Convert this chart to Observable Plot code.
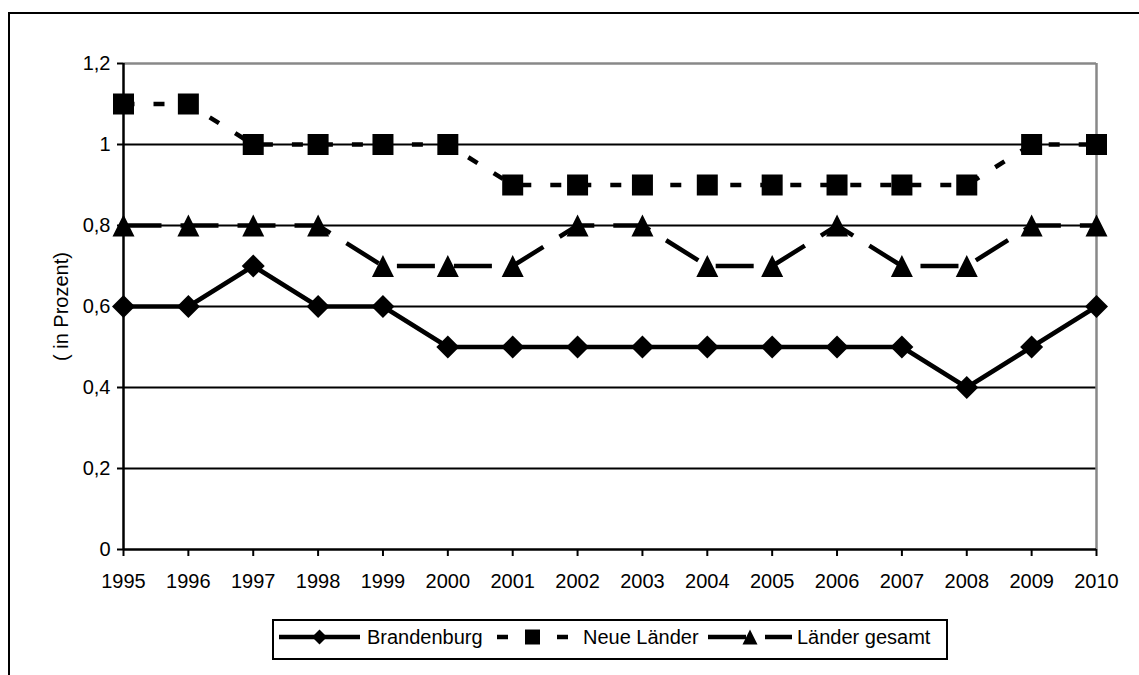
<!DOCTYPE html>
<html>
<head>
<meta charset="utf-8">
<script src="https://cdn.jsdelivr.net/npm/d3@7"></script>
<script src="https://cdn.jsdelivr.net/npm/@observablehq/plot@0.6"></script>
<style>
  body { margin: 0; background: #fff; }
  #page { position: relative; width: 1139px; height: 675px; overflow: hidden; background: #fff;
          font-family: "Liberation Sans", Arial, sans-serif; }
  #frame { position: absolute; left: 8px; top: 12px; width: 1300px; height: 800px;
           border-left: 2px solid #000; border-top: 2px solid #000; box-sizing: border-box; }
  #chart { position: absolute; left: 0; top: 0; }
  #legend { position: absolute; left: 0; top: 0; pointer-events: none; }
</style>
</head>
<body>
<div id="page">
  <div id="frame"></div>
  <div id="chart"></div>
  <svg id="legend" width="1139" height="675"></svg>
</div>
<script>
// Jahre (Kategorien der x-Achse)
const years = ["1995", "1996", "1997", "1998", "1999", "2000", "2001", "2002",
               "2003", "2004", "2005", "2006", "2007", "2008", "2009", "2010"];

// Werte in Prozent
const brandenburg   = [0.6, 0.6, 0.7, 0.6, 0.6, 0.5, 0.5, 0.5, 0.5, 0.5, 0.5, 0.5, 0.5, 0.4, 0.5, 0.6];
const neueLaender   = [1.1, 1.1, 1.0, 1.0, 1.0, 1.0, 0.9, 0.9, 0.9, 0.9, 0.9, 0.9, 0.9, 0.9, 1.0, 1.0];
const laenderGesamt = [0.8, 0.8, 0.8, 0.8, 0.7, 0.7, 0.7, 0.8, 0.8, 0.7, 0.7, 0.8, 0.7, 0.7, 0.8, 0.8];

const seriesNames = ["Brandenburg", "Neue Länder", "Länder gesamt"];
const yTicks = [0, 0.2, 0.4, 0.6, 0.8, 1, 1.2];
const yTitle = "( in Prozent)";

// Marker shapes; the symbol size maps to a half-extent a = r
const halfExtent = size => Math.sqrt(size / Math.PI);
const diamond = { draw(ctx, size) { const a = halfExtent(size);
  ctx.moveTo(0, -a); ctx.lineTo(a, 0); ctx.lineTo(0, a); ctx.lineTo(-a, 0); ctx.closePath(); } };
const square = { draw(ctx, size) { const a = halfExtent(size);
  ctx.moveTo(-a, -a); ctx.lineTo(a, -a); ctx.lineTo(a, a); ctx.lineTo(-a, a); ctx.closePath(); } };
const triangle = { draw(ctx, size) { const a = halfExtent(size);
  ctx.moveTo(0, -a); ctx.lineTo(a, a); ctx.lineTo(-a, a); ctx.closePath(); } };

const series = [
  { name: seriesNames[0], values: brandenburg,   symbol: diamond,  r: 11.5, dash: null },
  { name: seriesNames[1], values: neueLaender,   symbol: square,   r: 10.5, dash: "11,19" },
  { name: seriesNames[2], values: laenderGesamt, symbol: triangle, r: 11,   dash: "38,19" }
];

const rows = values => years.map((year, i) => ({ year, value: values[i] }));
const decimalComma = d => String(d).replace(".", ",");

const seriesMarks = series.flatMap(s => [
  Plot.line(rows(s.values), { x: "year", y: "value", stroke: "#000", strokeWidth: 4.5,
    strokeDasharray: s.dash ?? undefined, strokeLinejoin: "miter", strokeLinecap: "butt" }),
  Plot.dot(rows(s.values), { x: "year", y: "value", symbol: s.symbol, r: s.r, fill: "#000" })
]);

const chart = Plot.plot({
  width: 1139,
  height: 600,
  marginLeft: 123,
  marginRight: 43,
  marginTop: 63,
  marginBottom: 51,
  style: { background: "transparent", fontFamily: "'Liberation Sans', Arial, sans-serif",
           fontSize: "20px", color: "#000", overflow: "visible" },
  x: { type: "point", domain: years, padding: 0, round: false, label: null },
  y: { domain: [0, 1.2], label: null },
  marks: [
    Plot.ruleY(yTicks.filter(v => v > 0 && v < 1.2), { stroke: "#000", strokeWidth: 2 }),
    Plot.ruleY([1.2], { stroke: "#888", strokeWidth: 2.5 }),
    Plot.ruleX([years[years.length - 1]], { stroke: "#888", strokeWidth: 2.5 }),
    Plot.ruleX([years[0]], { stroke: "#000", strokeWidth: 2.5 }),
    Plot.ruleY([0], { stroke: "#000", strokeWidth: 2.5 }),
    Plot.axisY({ ticks: yTicks, tickFormat: decimalComma, tickSize: 6, tickPadding: 7,
                 stroke: "#000", strokeWidth: 2, fontSize: 20 }),
    Plot.axisX({ tickSize: 7, tickPadding: 17, stroke: "#000", strokeWidth: 2, fontSize: 20 }),
    Plot.text([yTitle], { text: d => d, frameAnchor: "left", textAnchor: "middle", dx: -62,
                          rotate: -90, fontSize: 20, fill: "#000" }),
    ...seriesMarks
  ]
});
document.getElementById("chart").appendChild(chart);

// Legend box below the chart
const legend = d3.select("#legend");
const legendBox = { x: 273, y: 620, w: 674, h: 39 };
const legendLayout = [
  { x0: 279, x1: 360, tx: 367 },
  { x0: 497, x1: 568, tx: 583 },
  { x0: 708, x1: 792, tx: 797 }
];
const legendR = [7.5, 7.5, 7.5];
legend.append("rect")
  .attr("x", legendBox.x).attr("y", legendBox.y)
  .attr("width", legendBox.w).attr("height", legendBox.h)
  .attr("fill", "#fff").attr("stroke", "#000").attr("stroke-width", 2);
const cy = legendBox.y + 17;
series.forEach((s, i) => {
  const L = legendLayout[i];
  const g = legend.append("g");
  g.append("line").attr("x1", L.x0).attr("x2", L.x1).attr("y1", cy).attr("y2", cy)
    .attr("stroke", "#000").attr("stroke-width", 4.5)
    .attr("stroke-dasharray", s.dash);
  g.append("path")
    .attr("transform", `translate(${(L.x0 + L.x1) / 2},${cy})`)
    .attr("d", d3.symbol(s.symbol, Math.PI * legendR[i] * legendR[i])())
    .attr("fill", "#000");
  g.append("text").attr("x", L.tx).attr("y", cy + 7)
    .attr("font-family", "'Liberation Sans', Arial, sans-serif")
    .attr("font-size", 20).attr("fill", "#000").text(s.name);
});
</script>
</body>
</html>
